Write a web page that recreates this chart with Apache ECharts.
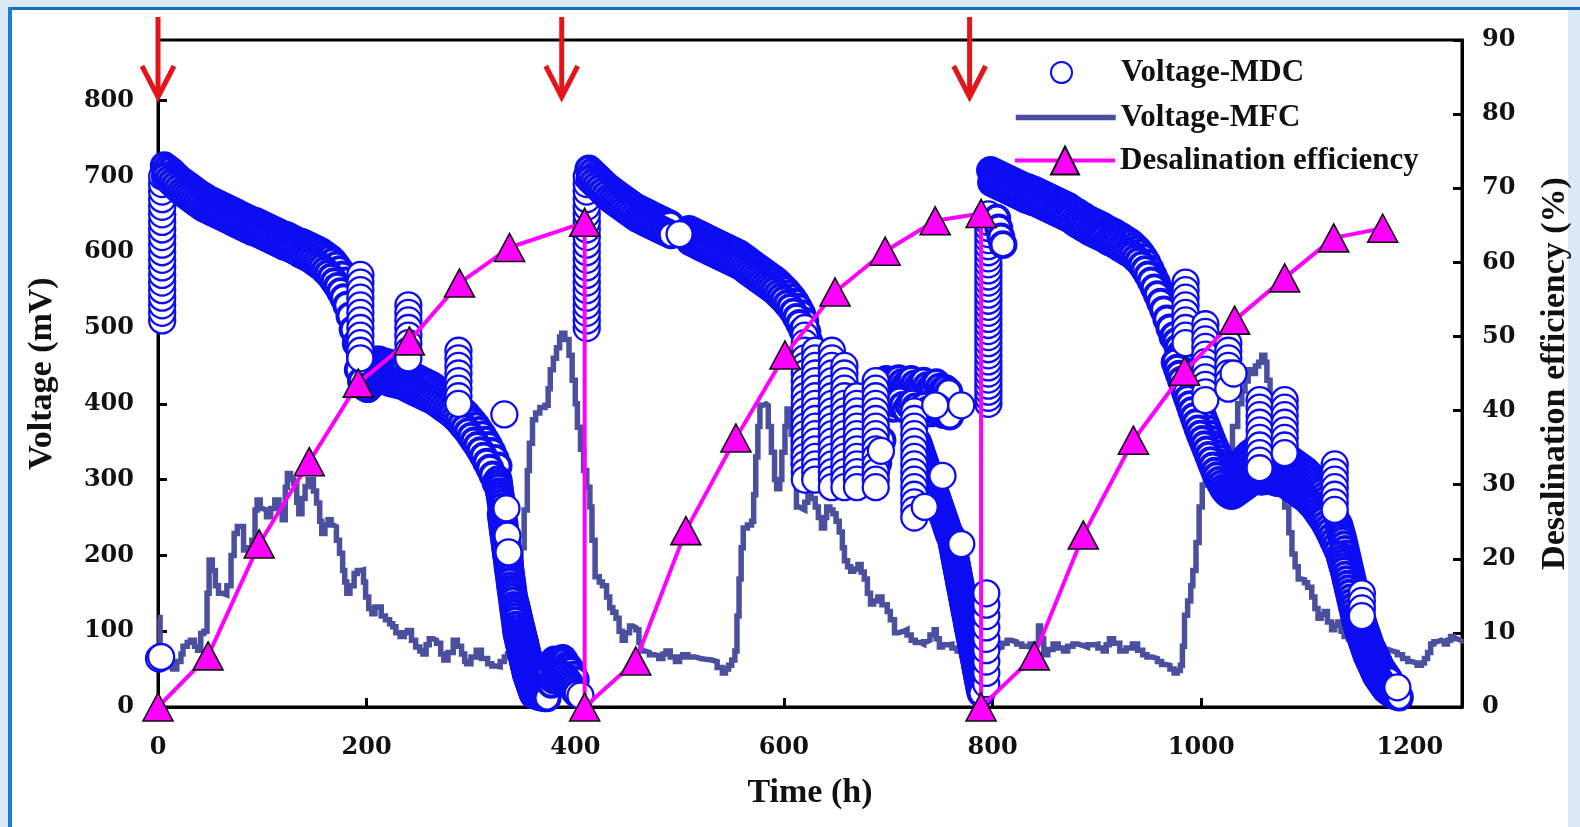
<!DOCTYPE html>
<html>
<head>
<meta charset="utf-8">
<script src="https://cdn.jsdelivr.net/npm/echarts@6/dist/echarts.min.js"></script>
<style>
html,body{margin:0;padding:0;background:#fff;}
#chart{width:1580px;height:827px;}
</style>
</head>
<body>
<div id="chart"></div>
<script>
// ======================= DATA =======================
// red arrows (medium replacement times, h)
const arrowTimes = [0, 387, 778];

// desalination efficiency (right axis, %)
const effTime = [0,48,97,145,192,241,289,337,409, 409,458,506,554,601,649,697,745,789, 789,840,887,935,984,1032,1080,1127,1174];
const effValue = [0,6.9,22.0,33.1,43.7,49.4,57.2,62.0,65.4, 0,6.2,23.8,36.3,47.5,56.0,61.5,65.6,66.6, 0,6.9,23.2,36.0,45.3,52.2,57.9,63.3,64.6];

// Voltage-MFC (left axis, mV): [time h, mV]
const mfcData = [
[0,118],[2,60],[5,53],[10,58],[14,50],[18,60],[22,70],[24,80],[28,85],[31,88],[35,80],[38,75],[41,97],[44,100],[47,150],[49,194],[52,180],[55,160],[58,150],[62,148],[66,160],[70,200],[73,229],[76,238],[79,238],[82,207],[86,210],[90,220],[93,260],[95,273],[98,262],[100,260],[104,251],[108,262],[112,273],[116,262],[119,247],[122,290],[124,308],[127,300],[130,295],[133,270],[135,255],[138,275],[141,291],[144,300],[146,300],[149,285],[152,269],[155,245],[157,229],[160,240],[163,247],[166,240],[168,238],[171,220],[174,203],[177,180],[179,165],[181,150],[184,160],[188,176],[191,180],[194,181],[197,165],[199,145],[202,130],[205,123],[208,132],[210,132],[214,120],[218,115],[222,110],[225,106],[228,98],[232,93],[236,98],[239,101],[243,88],[247,79],[251,74],[254,70],[257,82],[260,90],[264,88],[267,84],[271,70],[274,62],[278,72],[283,88],[287,80],[291,70],[294,60],[296,57],[300,66],[305,75],[310,64],[316,57],[320,54],[324,53],[328,60],[332,66],[335,70],[338,88],[340,106],[343,130],[345,159],[348,210],[351,260],[354,312],[356,348],[359,379],[362,388],[366,395],[371,398],[374,420],[376,445],[379,460],[382,474],[385,488],[387,493],[390,485],[394,464],[397,431],[400,400],[402,369],[405,340],[408,312],[411,290],[414,264],[416,220],[419,172],[423,165],[426,160],[430,145],[433,131],[436,125],[439,117],[442,100],[445,88],[448,98],[452,107],[455,105],[458,102],[461,85],[463,74],[467,72],[471,69],[476,68],[480,64],[484,70],[487,74],[491,66],[496,60],[500,66],[503,69],[508,66],[515,64],[520,63],[525,62],[531,60],[536,52],[541,45],[544,50],[547,55],[550,62],[553,74],[555,120],[557,169],[559,210],[561,236],[565,240],[569,245],[571,280],[573,330],[575,370],[577,398],[580,400],[583,398],[585,370],[588,336],[591,300],[593,288],[596,300],[598,336],[601,370],[603,393],[605,385],[607,360],[609,320],[612,264],[615,262],[617,260],[620,270],[623,283],[626,275],[630,264],[633,250],[636,236],[639,250],[641,264],[644,260],[647,255],[650,245],[653,231],[656,210],[658,193],[661,185],[664,179],[667,182],[671,188],[674,178],[677,169],[680,150],[683,136],[686,140],[690,145],[694,135],[699,126],[702,115],[706,98],[710,100],[715,102],[718,95],[722,88],[726,85],[731,83],[734,86],[737,88],[740,95],[744,102],[746,90],[749,79],[752,82],[756,83],[761,78],[766,74],[769,80],[772,83],[777,80],[782,79],[786,76],[791,74],[797,77],[804,79],[809,84],[814,88],[818,86],[823,83],[828,80],[833,79],[836,83],[840,85],[844,107],[846,90],[849,69],[853,76],[858,83],[863,78],[868,74],[872,80],[877,83],[882,81],[887,79],[891,82],[896,83],[901,78],[906,74],[909,82],[912,90],[916,84],[922,74],[928,78],[934,83],[939,75],[944,69],[948,66],[953,64],[958,60],[962,56],[966,55],[970,50],[974,45],[977,48],[980,55],[982,80],[984,121],[987,140],[990,160],[992,180],[995,217],[998,264],[1001,293],[1004,305],[1007,312],[1010,305],[1014,298],[1017,310],[1020,321],[1025,340],[1030,370],[1035,400],[1039,417],[1042,430],[1045,445],[1049,440],[1052,450],[1055,455],[1058,464],[1061,455],[1063,431],[1066,405],[1068,383],[1071,345],[1074,312],[1077,290],[1080,264],[1084,230],[1087,202],[1090,185],[1093,169],[1096,168],[1099,164],[1102,158],[1106,145],[1109,130],[1112,117],[1115,122],[1118,126],[1121,112],[1125,102],[1128,108],[1131,112],[1134,100],[1137,93],[1141,90],[1145,85],[1150,79],[1155,76],[1160,74],[1163,78],[1166,79],[1170,77],[1175,76],[1179,74],[1183,72],[1188,69],[1193,64],[1198,60],[1202,58],[1207,55],[1211,58],[1214,64],[1217,72],[1220,83],[1223,86],[1226,88],[1230,86],[1233,83],[1236,88],[1239,93],[1242,90],[1245,88],[1249,90]
];

// Voltage-MDC (left axis, mV). Logged runs: start time t0 (h), sampling step dt (h), readings v (mV)
// Vertical runs (same time): time t (h), readings v (mV)
// ---- cycle 1 ----
const mdc1Start = [[1,64],[3,66]];
const mdc1Col0 = {t: 4, v: [510,520,530,540,550,560,570,580,590,600,610,620,630,640,650,660,670,680,690,700]};
const mdc1BandU = {t0: 6, dt: 3, v: [714,711,708,704,700,696,693,690,687,684,681,678,675,673,670,668,666,664,662,660,658,656,654,652,650,648,646,644,642,641,639,637,635,633,631,629,627,625,623,622,620,618,616,614,613,611,609,607,605,603,601,598,595,592,588,583,577,570,562,552,540,524]};
const mdc1BandL = {t0: 7, dt: 3, v: [700,696,692,688,684,680,677,674,671,668,665,662,659,657,655,653,651,649,647,645,643,641,639,637,635,633,631,629,627,626,624,622,620,618,616,614,612,610,608,607,605,603,601,598,596,594,592,589,586,583,580,576,572,567,561,555,548,540,530,516,498,480]};
const mdc1BlobU = {t0: 191, dt: 3, v: [478,462,454,450,452,455,458,458,456,455,454,452,450,448,446,444]};
const mdc1BlobL = {t0: 192, dt: 3, v: [445,430,422,420,424,428,432,434,432,430,428,427,426,425,424,422]};
const mdc1MidU = {t0: 239, dt: 3, v: [440,438,436,434,432,430,428,426,424,421,418,415,412,409,406,402,398,394,390,386,381,376,371,365,359,352,345,337,328,318]};
const mdc1MidL = {t0: 240, dt: 3, v: [420,418,416,414,412,410,408,406,404,401,398,395,392,389,386,382,378,373,368,363,357,351,345,338,331,323,315,306,296,286]};
const mdc1DescA = {t0: 326, dt: 0.5, v: [300,295,290,284,279,274,269,264,258,253,248,243,238,232,227,222,217,212,206,201,196,191,186,180,175,170,165,160,154,149,144,141,138,135,133,130,127,124,121,118,115,112,109,107,104,101,98,95,92,89,87,84,81,78,75,72,69,67,64,61,58,55,52,49]};
const mdc1DescB = {t0: 329, dt: 0.5, v: [254,249,244,238,233,228,223,218,212,207,202,197,192,186,181,176,171,166,160,155,150,145,140,134,129,124,119,114,108,103,98,95,92,89,86,83,80,77,74,71,68,65,62,59,56,53,50,47,44,42,40,38,36,34,32,30,28,26,24,22,20,18,16]};
const mdc1Tail = {t0: 361, dt: 2, v: [16,15,14,13,13,12,12]};
const mdc1ClusterU = {t0: 376, dt: 2, v: [50,58,62,60,56,60,64,60,55,52,48,42,36]};
const mdc1ClusterL = {t0: 377, dt: 2, v: [30,36,40,38,34,38,42,38,34,30,26,22,18]};
const mdc1Cols = [
  {t: 194, v: [570,560,550,540,530,520,510,500,490,480,470,460]},
  {t: 240, v: [530,520,510,500,490,480,470,460]},
  {t: 288, v: [470,460,450,440,430,420,410,400]}
];
// ---- cycle 2 ----
const mdc2Col0 = {t: 411, v: [500,510,520,530,540,550,560,570,580,590,600,610,620,630,640,650,660,670,680,690,700]};
const mdc2BandU = {t0: 413, dt: 3, v: [710,706,702,698,694,690,686,683,680,677,674,671,668,665,662,659,657,655,653,651,649,647,645,643,641,639,637]};
const mdc2BandL = {t0: 414, dt: 3, v: [696,692,688,684,680,676,672,669,666,663,660,657,654,651,648,645,643,641,639,637,635,633,631,629,627,625,623]};
const mdc2Band2U = {t0: 509, dt: 3, v: [630,628,626,624,622,620,618,616,614,612,610,608,606,604,602,600,598,595,592,589,586,583,580,577,574,571,568,565,562,558,554,550,545,540,534,527,519,509]};
const mdc2Band2L = {t0: 510, dt: 3, v: [614,612,610,608,606,604,602,600,598,596,594,592,590,588,586,584,582,579,576,573,570,567,564,561,558,555,552,549,545,541,537,532,527,521,514,506,497,486]};
const mdc2Mess = {t0: 622, dt: 2, v: [495,482,468,455,442,430,418,406,394,382,370,358,346,335,325,316,308,302,298,296,298,302,300,296,298,304,300,296,300,306,302,298,304,312,322,336,352]};
const mdc2ClusterU = {t0: 695, dt: 3, v: [430,432,428,425,430,433,428,424,428,432,426,422,426,430,424,420,424,428,422,418,420,416]};
const mdc2ClusterL = {t0: 696, dt: 3, v: [400,404,398,394,400,405,398,392,398,402,396,390,394,398,392,388,392,396,390,386,388,384]};
const mdc2DescA = {t0: 728, dt: 1, v: [350,346,342,338,334,330,326,322,318,314,310,306,302,298,294,290,286,282,278,274,270,266,262,258,254,250,246,242,238,234,230,226]};
const mdc2DescB = {t0: 760, dt: 0.5, v: [226,222,218,215,211,208,204,200,197,193,190,186,182,179,175,172,168,164,161,157,154,150,146,143,139,136,132,128,125,121,118,114,110,107,103,100,96,92,89,85,82,78,74,71,67,64,60,56,53,49,46,42,38,35,31,28,24,21,18]};
const mdc2Col1 = {t: 796, v: [400,408,416,424,432,440,448,456,464,472,480,488,496,504,512,520,528,536,544,552,560,568,576,584,592,600,608,616,624,632,640,650]};
const mdc2Cols = [
  {t: 620, v: [500,490,480,470,460,450,440,430,420,410,400,390,380,370,360,350,340,330,320,310,300]},
  {t: 630, v: [470,460,450,440,430,420,410,400,390,380,370,360,350,340,330,320,310,300]},
  {t: 646, v: [470,460,450,440,430,420,410,400,390,380,370,360,350,340,330,320,310,300,290]},
  {t: 658, v: [450,440,430,420,410,400,390,380,370,360,350,340,330,320,310,300,290]},
  {t: 670, v: [410,400,390,380,370,360,350,340,330,320,310,300,290]},
  {t: 688, v: [430,420,410,400,390,380,370,360,350,340,330,320,310,300,290]},
  {t: 725, v: [390,380,370,360,350,340,330,320,310,300,290,280,270,260,250]},
  {t: 794, v: [30,45,60,75,90,105,120,135,150]}
];
// ---- cycle 3 ----
const mdc3Hang = [[804,645],[806,632],[808,620],[810,610]];
const mdc3BandU = {t0: 798, dt: 3, v: [708,706,704,702,700,698,696,694,692,690,688,686,685,683,682,680,678,676,674,672,670,668,666,664,662,660,657,654,652,649,647,644,642,640,638,636,634,631,629,627,625,622,620,617,615,612,608,604,599,593,586,578,569,560,550,540,528,516,504]};
const mdc3BandL = {t0: 799, dt: 3, v: [692,690,688,686,684,682,680,678,676,674,672,670,669,667,666,664,662,660,658,656,654,652,650,648,646,644,641,638,636,633,631,628,626,624,622,620,618,615,613,611,609,606,604,601,599,596,592,588,583,577,570,562,553,544,534,524,512,500,488]};
const mdc3LowU = {t0: 974, dt: 2, v: [490,482,474,466,458,450,442,434,426,418,410,402,395,388,381,374,367,360,353,346,340,334,328,322,318,314,311,310,311,313,316,319,322,325,328,331,334,336,338,338,337,336,336,337,338,338,337,336,335,334,334,334,333,332,330,328,326,324,322,320,318,316,314,312,309,306,303,300,296,292,288,284,279,274,269,263,257,251,245]};
const mdc3LowL = {t0: 975, dt: 2, v: [455,447,439,431,423,415,407,399,391,383,375,367,360,353,346,339,332,325,318,311,305,299,294,289,285,282,280,279,280,282,284,286,288,290,292,294,296,298,300,300,299,298,298,299,300,300,299,298,297,296,296,296,295,294,292,290,288,286,284,282,280,278,276,274,271,268,265,262,258,254,250,246,241,236,231,225,219,213,207]};
const mdc3EndU = {t0: 1132, dt: 1, v: [240,235,230,225,220,214,208,202,196,190,184,178,172,166,160,154,148,142,136,131,126,121,116,111,106,102,98,94,90,86,82,79,76,73,70,67,64,61,58,55,52,50,48,46,44,42,40,38,36]};
const mdc3EndL = {t0: 1133, dt: 1, v: [200,195,190,185,180,174,168,162,156,150,144,138,132,126,120,115,110,105,100,96,92,88,84,80,76,72,68,65,62,59,56,53,50,47,44,41,39,37,35,33,31,29,27,25,23,22,21,20,19,18,17,16,16,15,15,14,14,13]};
const mdc3Cols = [
  {t: 985, v: [560,550,540,530,520,510,500,490,480]},
  {t: 1004, v: [505,495,485,475,465,455,445,435,425,415,405]},
  {t: 1026, v: [480,470,460,450,440,430,420]},
  {t: 1056, v: [405,395,385,375,365,355,345,335,325,315]},
  {t: 1080, v: [405,395,385,375,365,355,345,335]},
  {t: 1128, v: [320,310,300,290,280,270,260]},
  {t: 1154, v: [150,140,130,120]}
];
// single readings drawn last
const mdcIsolated = [[332,386],[334,262],[335,226],[336,204],[405,15],[500,624],[693,338],[745,398],[770,398],[752,305],[770,215],[735,264],[1031,440],[1188,26]];

// ======================= BUILD =======================
function run(s) { return s.v.map((v, i) => [s.t0 + i * s.dt, v]); }
function col(c) { return c.v.map(v => [c.t, v]); }

// start-of-cycle vertical runs (drawn beneath the dense runs)
const mdcStartCols = [].concat(mdc1Start, col(mdc1Col0), col(mdc2Col0), col(mdc2Col1));
// dense logged runs
const mdcRuns = [].concat(
  run(mdc1BandU), run(mdc1BandL), run(mdc1BlobU), run(mdc1BlobL),
  run(mdc1MidU), run(mdc1MidL), run(mdc1DescA), run(mdc1DescB), run(mdc1Tail),
  run(mdc1ClusterU), run(mdc1ClusterL),
  run(mdc2BandU), run(mdc2BandL), run(mdc2Band2U), run(mdc2Band2L), run(mdc2Mess),
  run(mdc2ClusterU), run(mdc2ClusterL), run(mdc2DescA), run(mdc2DescB),
  mdc3Hang, run(mdc3BandU), run(mdc3BandL), run(mdc3LowU), run(mdc3LowL), run(mdc3EndU), run(mdc3EndL)
);
// other vertical runs and single readings (drawn on top)
const mdcColumns = [].concat(
  ...mdc1Cols.map(col), ...mdc2Cols.map(col), ...mdc3Cols.map(col), mdcIsolated
);
const effData = effTime.map((t, i) => [t, effValue[i]]);

const serifBold = {fontFamily: 'Liberation Serif', fontWeight: 'bold', color: '#111'};
const tickFont = {fontFamily: 'DejaVu Serif', fontWeight: 'bold', fontSize: 24, color: '#111'};
const axisLineStyle = {color: '#000', width: 3};
const tickStyle = {show: true, inside: true, length: 9, lineStyle: {color: '#000', width: 3}};
const RED = '#e3151b';
const BLUE = '#0d0df2';
const thinRing = {color: '#ffffff', borderColor: BLUE, borderWidth: 2.3, opacity: 1};

const chart = echarts.init(document.getElementById('chart'), null, {renderer: 'canvas'});

chart.setOption({
  animation: false,
  backgroundColor: '#dbe9f7',
  graphic: {
    elements: [
      {type: 'rect', silent: true, z: -100, shape: {x: 11, y: 10, width: 1557, height: 817}, style: {fill: '#ffffff'}},
      {type: 'rect', silent: true, z: -99, shape: {x: 8, y: 7, width: 1572, height: 3}, style: {fill: '#1670c2'}},
      {type: 'rect', silent: true, z: -99, shape: {x: 8, y: 7, width: 4, height: 820}, style: {fill: '#1a7fd2'}}
    ]
  },
  grid: {left: 158, right: 118, top: 40, bottom: 120, show: true, borderColor: '#000', borderWidth: 3, backgroundColor: 'transparent', containLabel: false},
  legend: [
    {orient: 'vertical', left: 1045, top: 52, itemWidth: 21, itemHeight: 21, selectedMode: false,
     textStyle: Object.assign({fontSize: 31, padding: [0, 0, 0, 44]}, serifBold),
     data: ['Voltage-MDC']},
    {orient: 'vertical', left: 1008, top: 97, itemWidth: 100, itemHeight: 24, selectedMode: false,
     lineStyle: {width: 5.5, color: '#4a4f9e'},
     textStyle: Object.assign({fontSize: 31}, serifBold),
     data: [{name: 'Voltage-MFC', itemStyle: {color: 'rgba(0,0,0,0)', borderWidth: 0, borderColor: 'rgba(0,0,0,0)'}}]},
    {orient: 'vertical', left: 1008, top: 140, itemWidth: 100, itemHeight: 35, selectedMode: false,
     lineStyle: {width: 4, color: '#ff00ff'},
     textStyle: Object.assign({fontSize: 31}, serifBold),
     data: ['Desalination efficiency']}
  ],
  xAxis: [{
    type: 'value', min: 0, max: 1250, interval: 200,
    name: 'Time (h)', nameLocation: 'middle', nameGap: 69,
    nameTextStyle: Object.assign({fontSize: 34}, serifBold),
    axisLine: {show: true, onZero: false, lineStyle: axisLineStyle},
    axisTick: tickStyle,
    axisLabel: Object.assign({margin: 29, showMaxLabel: false, formatter: v => String(v)}, tickFont),
    splitLine: {show: false}
  }],
  yAxis: [{
    type: 'value', min: 0, max: 880, interval: 100, position: 'left',
    name: 'Voltage (mV)', nameLocation: 'middle', nameGap: 99,
    nameTextStyle: Object.assign({fontSize: 34}, serifBold),
    axisLine: {show: true, onZero: false, lineStyle: axisLineStyle},
    axisTick: tickStyle,
    axisLabel: Object.assign({margin: 24, showMaxLabel: false, formatter: v => String(v)}, tickFont),
    splitLine: {show: false}
  }, {
    type: 'value', min: 0, max: 90, interval: 10, position: 'right',
    name: 'Desalination efficiency (%)', nameLocation: 'middle', nameGap: 76,
    nameTextStyle: Object.assign({fontSize: 34}, serifBold),
    axisLine: {show: true, onZero: false, lineStyle: axisLineStyle},
    axisTick: tickStyle,
    axisLabel: Object.assign({margin: 20, formatter: v => String(v)}, tickFont),
    splitLine: {show: false}
  }],
  series: [
    {
      name: 'Voltage-MFC', type: 'line', xAxisIndex: 0, yAxisIndex: 0,
      data: mfcData, symbol: 'none', showSymbol: false, step: 'end',
      lineStyle: {color: '#4a4f9e', width: 5.5, join: 'miter'},
      itemStyle: {color: '#4a4f9e'}, z: 2
    },
    {
      name: 'Voltage-MDC', type: 'scatter', xAxisIndex: 0, yAxisIndex: 0,
      data: mdcStartCols, symbol: 'circle', symbolSize: 26, large: false, progressive: 0,
      itemStyle: thinRing, z: 3
    },
    {
      name: 'Voltage-MDC', type: 'scatter', xAxisIndex: 0, yAxisIndex: 0,
      data: mdcRuns, symbol: 'circle', symbolSize: 25, large: false, largeThreshold: 100000, progressive: 0,
      itemStyle: {color: '#ffffff', borderColor: BLUE, borderWidth: 3.9, opacity: 1},
      z: 3
    },
    {
      name: 'Voltage-MDC', type: 'scatter', xAxisIndex: 0, yAxisIndex: 0,
      data: mdcColumns, symbol: 'circle', symbolSize: 26, large: false, progressive: 0,
      itemStyle: thinRing, z: 4
    },
    {
      name: 'Desalination efficiency', type: 'line', xAxisIndex: 0, yAxisIndex: 1,
      data: effData, symbol: 'triangle', symbolSize: [30, 28], showSymbol: true,
      lineStyle: {color: '#ff00ff', width: 4},
      itemStyle: {color: '#ff00ff', borderColor: '#111', borderWidth: 1.6},
      z: 5
    },
    {
      name: 'arrows', type: 'custom', xAxisIndex: 0, yAxisIndex: 0, clip: false, z: 10, silent: true,
      data: arrowTimes.map(t => [t]),
      encode: {x: 0},
      renderItem: function (params, api) {
        const p = api.coord([api.value(0), 880]);
        const x = p[0], top = p[1];
        return {
          type: 'group',
          children: [
            {type: 'line', shape: {x1: x, y1: top - 23, x2: x, y2: top + 56}, style: {stroke: RED, lineWidth: 5}},
            {type: 'polyline', shape: {points: [[x - 16, top + 26], [x, top + 57], [x + 16, top + 26]]}, style: {stroke: RED, lineWidth: 5, fill: null, lineJoin: 'miter'}}
          ]
        };
      }
    }
  ]
});
</script>
</body>
</html>
